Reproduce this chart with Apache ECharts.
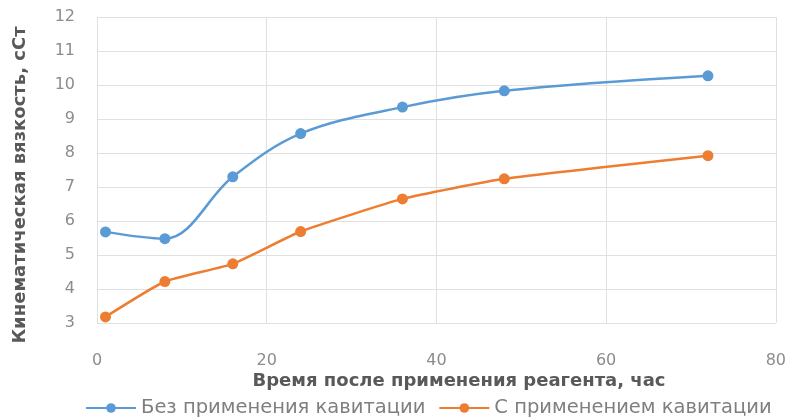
<!DOCTYPE html>
<html lang="ru">
<head>
    <meta charset="UTF-8">
    <title>Кинематическая вязкость</title>
    <script src="https://cdn.jsdelivr.net/npm/echarts@6/dist/echarts.min.js"></script>
    <style>
        html, body { margin: 0; padding: 0; background: #fff; }
    </style>
</head>
<body>
    <div id="main" style="width: 789px; height: 417px;"></div>
    <script type="text/javascript">

// время, час
var hours = [1, 8, 16, 24, 36, 48, 72];
// вязкость, сСт
var withoutCavitation = [5.68, 5.48, 7.3, 8.57, 9.35, 9.83, 10.27];
var withCavitation = [3.18, 4.22, 4.74, 5.69, 6.65, 7.24, 7.92];

var seriesNames = ['Без применения кавитации', 'С применением кавитации'];
var xTitle = 'Время после применения реагента, час';
var yTitle = 'Кинематическая вязкость, сСт';
var colors = ['#5B9BD5', '#ED7D31'];

function pairs(xs, ys) {
    return xs.map(function (x, i) { return [x, ys[i]]; });
}

var chartDom = document.getElementById('main');
var myChart = echarts.init(chartDom);
var font = '"DejaVu Sans", sans-serif';

var option = {
    animation: false,
    color: colors,
    grid: { left: 97, right: 11, top: 17, bottom: 94 },
    legend: {
        top: 398,
        left: 85,
        padding: 0,
        itemWidth: 50,
        itemHeight: 12,
        itemGap: 13,
        textStyle: { fontFamily: font, fontSize: 19.5, color: '#7f7f7f' },
        data: seriesNames
    },
    // подписи осей
    graphic: [
        {
            type: 'text',
            x: 459, y: 381,
            style: {
                text: xTitle, fontFamily: font, fontSize: 18, fontWeight: 'bold',
                fill: '#595959', align: 'center', verticalAlign: 'middle'
            }
        },
        {
            type: 'text',
            x: 20, y: 185,
            rotation: Math.PI / 2,
            style: {
                text: yTitle, fontFamily: font, fontSize: 18, fontWeight: 'bold',
                fill: '#595959', align: 'center', verticalAlign: 'middle'
            }
        }
    ],
    xAxis: {
        type: 'value',
        min: 0, max: 80, interval: 20,
        axisLine: { show: false },
        axisTick: { show: false },
        axisLabel: { margin: 30, fontFamily: font, fontSize: 16, color: '#8c8c8c' },
        splitLine: { lineStyle: { color: '#e0e0e0' } }
    },
    yAxis: {
        type: 'value',
        min: 3, max: 12, interval: 1,
        axisLine: { show: false },
        axisTick: { show: false },
        axisLabel: { margin: 22, fontFamily: font, fontSize: 16, color: '#8c8c8c' },
        splitLine: { lineStyle: { color: '#e0e0e0' } }
    },
    series: [
        {
            name: seriesNames[0],
            type: 'line',
            smooth: 0.35,
            symbol: 'circle',
            symbolSize: 11,
            lineStyle: { width: 2.5 },
            data: pairs(hours, withoutCavitation)
        },
        {
            name: seriesNames[1],
            type: 'line',
            smooth: 0.15,
            symbol: 'circle',
            symbolSize: 11,
            lineStyle: { width: 2.5 },
            data: pairs(hours, withCavitation)
        }
    ]
};

option && myChart.setOption(option);
    </script>
</body>
</html>
